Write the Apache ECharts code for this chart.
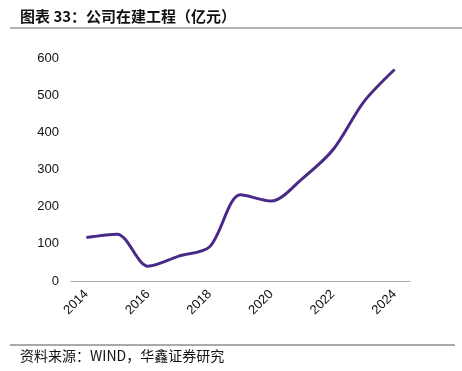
<!DOCTYPE html>
<html><head><meta charset="utf-8">
<script src="https://cdn.jsdelivr.net/npm/echarts@6/dist/echarts.min.js"></script>
<style>html,body{margin:0;padding:0;background:#fff}#c{width:462px;height:371px}</style>
</head><body><div id="c"></div>
<script>
var years = ['2014','2015','2016','2017','2018','2019','2020','2021','2022','2023','2024'];
var values = [117, 126, 40, 67, 92, 232, 215, 275, 353, 482, 569];
var yTicks = [0, 100, 200, 300, 400, 500, 600];

var chart = echarts.init(document.getElementById('c'), null, {renderer: 'canvas'});
chart.setOption({
  animation: false,
  backgroundColor: '#fff',
  title: [{
    text: '图表 33：公司在建工程（亿元）',
    left: 15, top: 4,
    textStyle: {fontFamily: 'Noto Sans CJK SC', fontSize: 15, fontWeight: 'bold', color: '#111'}
  }, {
    text: '资料来源：WIND，华鑫证券研究',
    left: 15, top: 344,
    textStyle: {fontFamily: 'Noto Sans CJK SC', fontSize: 14, fontWeight: 'normal', color: '#111'}
  }],
  graphic: [
    {type: 'line', shape: {x1: 10, y1: 28, x2: 462, y2: 28}, style: {stroke: '#999', lineWidth: 1.5}},
    {type: 'line', shape: {x1: 10, y1: 345, x2: 455, y2: 345}, style: {stroke: '#555', lineWidth: 1}}
  ],
  grid: {left: 71, right: 52, top: 58, bottom: 90},
  xAxis: {
    type: 'category',
    data: years,
    boundaryGap: true,
    axisLine: {lineStyle: {color: '#aaa', width: 1}},
    axisTick: {inside: true, length: 4, lineStyle: {color: '#aaa'}},
    axisLabel: {interval: 1, rotate: 45, fontFamily: 'Liberation Sans', fontSize: 13, color: '#111', margin: 11}
  },
  yAxis: {
    type: 'value',
    min: yTicks[0], max: yTicks[yTicks.length - 1], interval: 100,
    axisLine: {show: false},
    axisTick: {show: false},
    splitLine: {show: false},
    axisLabel: {fontFamily: 'Liberation Sans', fontSize: 13, color: '#111', margin: 12}
  },
  series: [{
    type: 'line',
    data: values,
    smooth: 0.3,
    symbol: 'none',
    lineStyle: {color: '#4a2a88', width: 3}
  }]
});
</script></body></html>
